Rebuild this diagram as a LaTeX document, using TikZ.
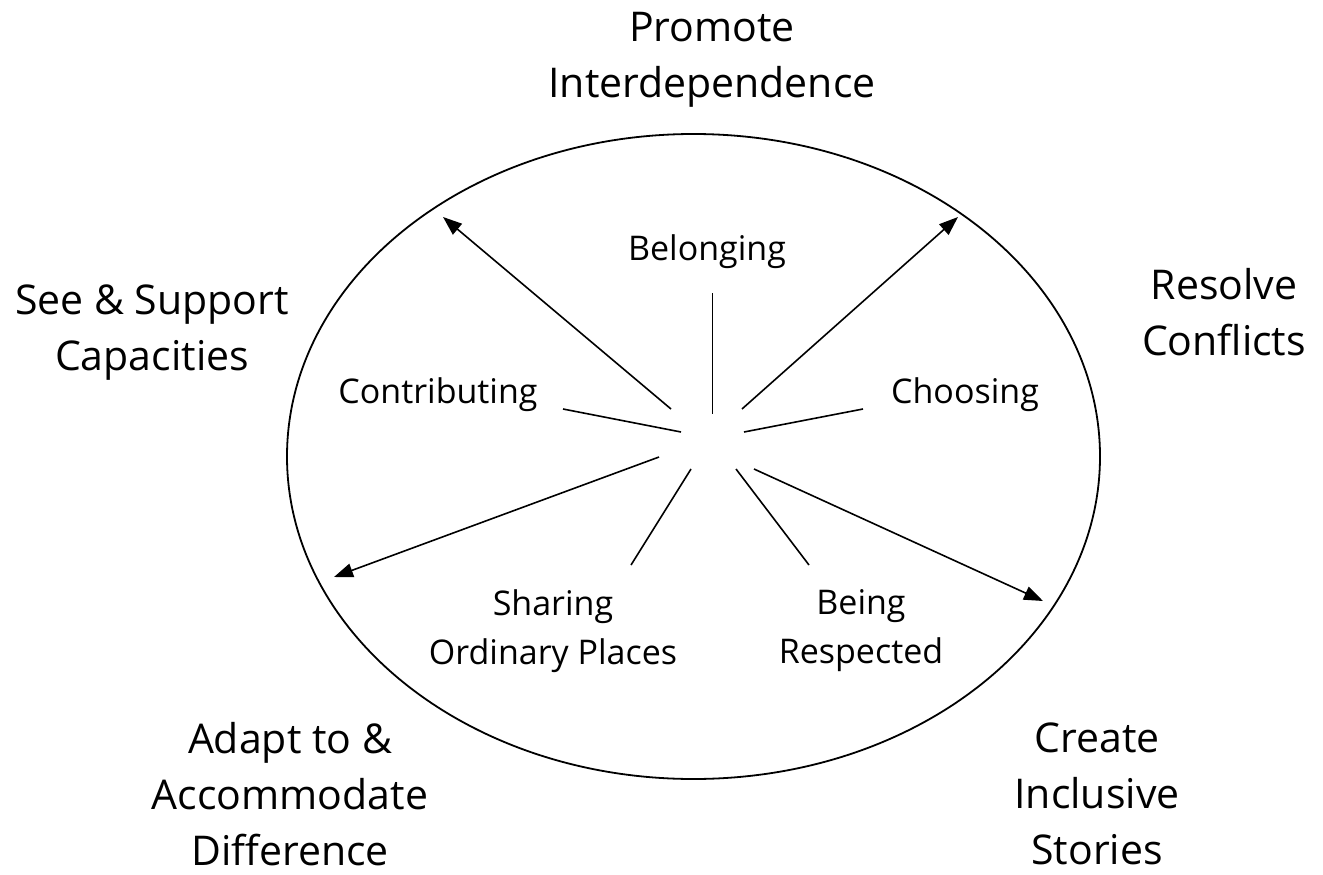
\documentclass[tikz,border=0pt]{standalone}
\usepackage{fontspec}
\setmainfont{Open Sans}
\usetikzlibrary{arrows.meta}
\tikzset{
  big/.style={align=center, inner sep=0pt, font=\fontsize{41}{56}\selectfont},
  small/.style={align=center, inner sep=0pt, font=\fontsize{34}{49}\selectfont},
  spoke/.style={line width=1.6pt},
  arr/.style={line width=1.6pt, -{Triangle[length=19pt,width=14pt]}},
}
\begin{document}
\begin{tikzpicture}[x=1pt,y=-1pt]
\useasboundingbox (0,0) rectangle (1323,875);
\draw[line width=1.8pt] (693.5,456.5) ellipse [x radius=406.5, y radius=322.5];
% outer labels
\node[big] (promote) at (712,60) {Promote\\Interdependence};
\node[big] (see) at (152,333) {See \& Support\\Capacities};
\node[big] (resolve) at (1224,312) {Resolve\\Conflicts};
\node[big] (adapt) at (290,794) {Adapt to \&\\Accommodate\\Difference};
\node[big] (create) at (1097,794) {Create\\Inclusive\\Stories};
% inner labels
\node[small] (belonging) at (707,252) {Belonging};
\node[small] (contrib) at (438,395) {Contributing};
\node[small] (choosing) at (965,395) {Choosing};
\node[small] (sharing) at (553,631) {Sharing\\Ordinary Places};
\node[small] (respect) at (861,631) {Being\\Respected};
% spoke end points
\coordinate (b1) at (712.5,293); \coordinate (b2) at (712.5,414);
\coordinate (c1) at (563,409); \coordinate (c2) at (681,432);
\coordinate (h1) at (863,409); \coordinate (h2) at (744,432);
\coordinate (s1) at (691,469); \coordinate (s2) at (631,565);
\coordinate (r1) at (736,469); \coordinate (r2) at (809,565);
\coordinate (ul0) at (671,409); \coordinate (ul1) at (443,217);
\coordinate (ur0) at (742,409); \coordinate (ur1) at (958,217);
\coordinate (dl0) at (659,457); \coordinate (dl1) at (334,577);
\coordinate (dr0) at (754,469); \coordinate (dr1) at (1043,601);
\draw[spoke] (b1) -- (b2);
\draw[spoke] (c1) -- (c2);
\draw[spoke] (h1) -- (h2);
\draw[spoke] (s1) -- (s2);
\draw[spoke] (r1) -- (r2);
\draw[arr] (ul0) -- (ul1);
\draw[arr] (ur0) -- (ur1);
\draw[arr] (dl0) -- (dl1);
\draw[arr] (dr0) -- (dr1);
\end{tikzpicture}
\end{document}
